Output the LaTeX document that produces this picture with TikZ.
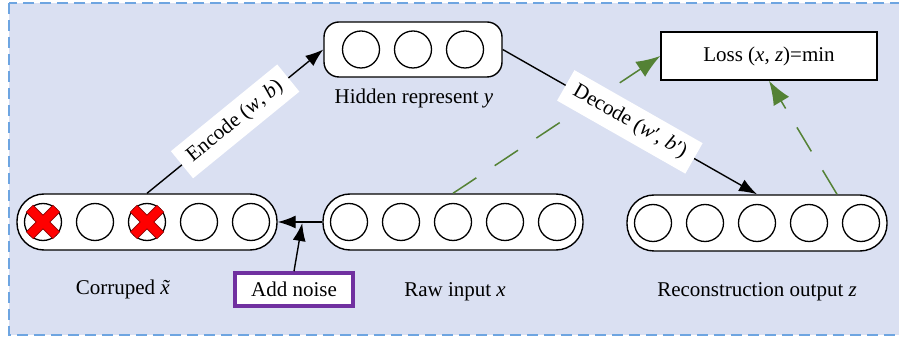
\documentclass[tikz,border=0pt]{standalone}
\usepackage{fontspec}
\setmainfont{Liberation Serif}
\usetikzlibrary{arrows.meta,calc}
\definecolor{bgc}{RGB}{218,224,242}
\definecolor{bordc}{RGB}{110,165,225}
\definecolor{grn}{RGB}{84,130,53}
\definecolor{purp}{RGB}{112,48,160}
\begin{document}
\begin{tikzpicture}[x=1pt,y=-1pt,
  txt/.style={font=\fontsize{21}{25}\selectfont, inner sep=0pt},
  layer/.style={draw, fill=white, line width=1.4pt, rounded corners=27pt, minimum width=260pt, minimum height=56pt, inner sep=0pt},
  hidbox/.style={draw, fill=white, line width=1.4pt, rounded corners=15pt, minimum width=178pt, minimum height=55pt, inner sep=0pt},
  unit/.style={circle, draw, line width=1.3pt, minimum size=37pt, inner sep=0pt},
  xmarkout/.style={line width=10.5pt, red!55!black},
  xmarkin/.style={line width=8.5pt, red},
  arr/.style={line width=1.4pt, -{Latex[length=18pt,width=13pt]}},
  garr/.style={grn, line width=1.5pt, dash pattern=on 28pt off 22pt, -{Latex[length=24pt,width=18pt]}},
  onlbl/.style={txt, fill=white, inner xsep=10pt, inner ysep=8pt, sloped, midway},
  plainbox/.style={draw, fill=white, line width=1.5pt, minimum width=216pt, minimum height=48pt, txt},
  noisebox/.style={draw=purp, fill=white, line width=3.5pt, minimum width=118pt, minimum height=33pt, txt}
]
\useasboundingbox (0,0) rectangle (899,344);
\fill[bgc] (9,3) rectangle (905,335);
\draw[bordc, line width=1.3pt, dash pattern=on 11pt off 6pt] (9,3) rectangle (905,335);

% layers
\node[layer] (corr) at (147,222) {};
\node[layer] (raw) at (453,222) {};
\node[layer] (rec) at (757,223) {};
\node[hidbox] (hid) at (413,49.5) {};

\foreach \i/\dx in {1/-104,2/-52,3/0,4/52,5/104}{
  \node[unit] (c\i) at ([xshift=\dx pt]corr.center) {};
  \node[unit] (r\i) at ([xshift=\dx pt]raw.center) {};
  \node[unit] (z\i) at ([xshift=\dx pt]rec.center) {};
}
\foreach \i/\dx in {1/-52,2/0,3/52}{
  \node[unit] (h\i) at ([xshift=\dx pt]hid.center) {};
}

% red crosses
\foreach \c in {c1,c3}{
  \draw[xmarkout] ($(\c)+(-13.5,-13.5)$) -- ($(\c)+(13.5,13.5)$);
  \draw[xmarkout] ($(\c)+(-13.5,13.5)$) -- ($(\c)+(13.5,-13.5)$);
  \draw[xmarkin] ($(\c)+(-13,-13)$) -- ($(\c)+(13,13)$);
  \draw[xmarkin] ($(\c)+(-13,13)$) -- ($(\c)+(13,-13)$);
}

% labels
\node[txt] (lh) at (414,98) {Hidden represent \textit{y}};
\node[txt] (lc) at (127,289) {Corruped \textit{\~{x}}};
\node[txt] (lr) at (455,292) {Raw input \textit{x}};
\node[txt] (lz) at (757,292) {Reconstruction output \textit{z}};

% boxes
\node[plainbox] (loss) at (769,56) {Loss (\textit{x}, \textit{z})=min};
\node[noisebox] (noise) at (294,289.5) {Add noise};

% green loss connectors (behind the labels)
\draw[garr] (r3 |- raw.north) -- (loss.west);
\draw[garr] ([xshift=80pt]rec.north) -- (loss.south);

% connectors
\draw[arr] (c3 |- corr.north) -- (hid.west)
  node[onlbl] {Encode (\textit{w}, \textit{b})};
\draw[arr] (hid.east) -- (z3 |- rec.north)
  node[onlbl] {Decode (\textit{w}′, \textit{b}′)};
\draw[arr] (raw.west) -- (corr.east);
\coordinate (nj) at ($(corr.east)!0.55!(raw.west)$);
\draw[arr] (noise.north) -- ([yshift=-1pt]nj);
\end{tikzpicture}
\end{document}
